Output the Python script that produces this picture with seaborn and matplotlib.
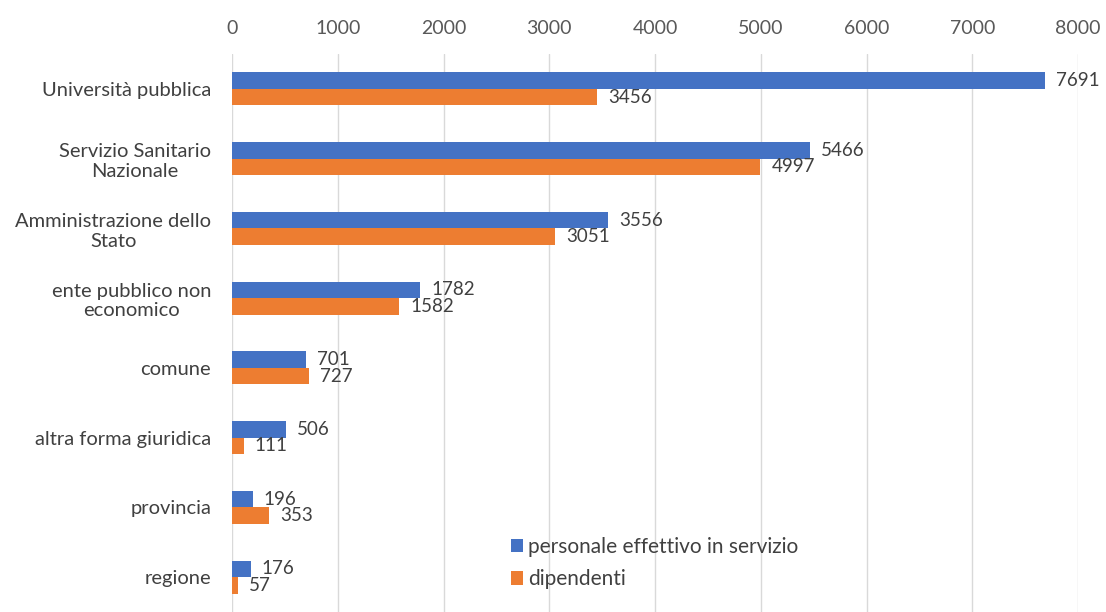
import matplotlib
matplotlib.use("Agg")
import matplotlib.pyplot as plt
import seaborn as sns
import pandas as pd

# Dati
categorie = [
    "Università pubblica",
    "Servizio Sanitario\nNazionale",
    "Amministrazione dello\nStato",
    "ente pubblico non\neconomico",
    "comune",
    "altra forma giuridica",
    "provincia",
    "regione",
]
personale = [7691, 5466, 3556, 1782, 701, 506, 196, 176]
dipendenti = [3456, 4997, 3051, 1582, 727, 111, 353, 57]
serie = ["personale effettivo in servizio", "dipendenti"]
tick_x = [0, 1000, 2000, 3000, 4000, 5000, 6000, 7000, 8000]

BLU = "#4472C4"
ARANCIO = "#ED7D31"

sns.set_theme(style="white")
plt.rcParams["font.family"] = ["Lato", "DejaVu Sans"]

df = pd.DataFrame({
    "categoria": categorie * 2,
    "valore": personale + dipendenti,
    "serie": [serie[0]] * len(categorie) + [serie[1]] * len(categorie),
})

fig = plt.figure(figsize=(11.06, 6.12), dpi=100)
ax = fig.add_axes([232 / 1106, 0.0, (1078 - 232) / 1106, 1 - 54 / 612])

sns.barplot(
    data=df, y="categoria", x="valore", hue="serie", orient="h",
    palette=[BLU, ARANCIO], width=0.473, saturation=1, linewidth=0, ax=ax,
)

for cont in ax.containers:
    ax.bar_label(cont, padding=8, fontsize=13.5, color="#404040")

ax.set_xlim(0, 8000)
ax.set_xticks(tick_x)
ax.xaxis.tick_top()
ax.set_xlabel("")
ax.set_ylabel("")
ax.set_yticks(range(len(categorie)))
ax.set_yticklabels(categorie, multialignment="center")
ax.grid(axis="x", color="#D9D9D9", linewidth=1)
ax.set_axisbelow(True)
for s in ax.spines.values():
    s.set_visible(False)
ax.tick_params(axis="x", length=0, labelsize=14, labelcolor="#595959", pad=12)
ax.tick_params(axis="y", length=0, labelsize=14.5, labelcolor="#404040", pad=15)

ax.legend(
    loc="lower left", bbox_to_anchor=((492 - 232) / (1078 - 232), 4 / 558),
    frameon=False, fontsize=15, handlelength=0.6, handleheight=0.6,
    handletextpad=0.25, labelspacing=0.6, labelcolor="#404040",
)

fig.savefig("out.png", dpi=100)
